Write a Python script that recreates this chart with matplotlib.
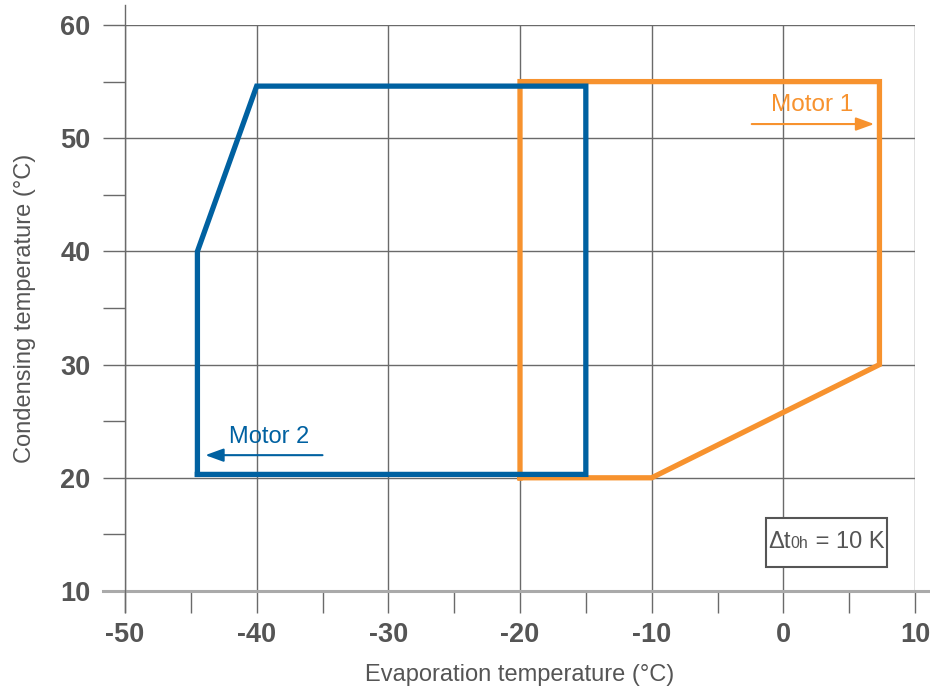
import matplotlib.pyplot as plt
from matplotlib.patches import Rectangle
from matplotlib.offsetbox import TextArea, HPacker, AnnotationBbox

plt.rcParams['font.family'] = ['Liberation Sans', 'DejaVu Sans']
plt.rcParams['axes.unicode_minus'] = False

# operating envelopes (evaporation temp, condensing temp)
motor1_te = [-20, -10, 7.3, 7.3, -20, -20]
motor1_tc = [20, 20, 30, 55, 55, 20]
motor2_te = [-44.5, -44.5, -40, -15, -15, -44.5]
motor2_tc = [20.3, 40, 54.6, 54.6, 20.3, 20.3]

x_ticks = [-50, -40, -30, -20, -10, 0, 10]
y_ticks = [10, 20, 30, 40, 50, 60]

orange = '#f7922e'
blue = '#0061a1'
grey = '#555555'

fig = plt.figure(figsize=(9.3, 6.9), dpi=100)
ax = fig.add_axes([125 / 930, 99 / 690, 790 / 930, 566 / 690])
ax.set_xlim(-50, 10)
ax.set_ylim(10, 60)

for s in ax.spines.values():
    s.set_visible(False)

ax.set_xticks(x_ticks)
ax.set_yticks(y_ticks)
ax.set_xticks([-45, -35, -25, -15, -5, 5], minor=True)
ax.set_yticks([15, 25, 35, 45, 55], minor=True)
ax.grid(True, which='major', color='#6a6a6a', lw=1.0)
ax.tick_params(which='both', length=16, width=1.0, color='#6a6a6a',
               labelsize=19.5, labelcolor=grey)
ax.tick_params(axis='x', pad=6)
ax.tick_params(axis='y', pad=9)
for lab in ax.get_xticklabels() + ax.get_yticklabels():
    lab.set_fontweight('bold')

# axis lines running past the plot area
ax.plot([-0.028, 1.019], [10, 10], color='#aaaaaa', lw=2.2,
        transform=ax.get_yaxis_transform(), clip_on=False, zorder=2.5)
ax.plot([-50, -50], [-0.037, 1.035], color='#6a6a6a', lw=1.0,
        transform=ax.get_xaxis_transform(), clip_on=False, zorder=2.5)

ax.set_xlabel('Evaporation temperature (°C)', fontsize=17, color=grey, labelpad=12)
ax.set_ylabel('Condensing temperature (°C)', fontsize=17, color=grey, labelpad=17)

ax.plot(motor1_te, motor1_tc, color=orange, lw=3.8, solid_joinstyle='miter', zorder=3)
ax.plot(motor2_te, motor2_tc, color=blue, lw=3.8, solid_joinstyle='miter', zorder=4)

ax.text(2.2, 52.9, 'Motor 1', color=orange, fontsize=17.5, ha='center', va='center')
ax.annotate('', xy=(6.9, 51.25), xytext=(-2.4, 51.25),
            arrowprops=dict(arrowstyle='-|>,head_length=1.1,head_width=0.4',
                            color=orange, lw=1.5, shrinkA=0, shrinkB=0))
ax.text(-42.1, 23.6, 'Motor 2', color=blue, fontsize=17, ha='left', va='center')
ax.annotate('', xy=(-43.9, 22.0), xytext=(-35.0, 22.0),
            arrowprops=dict(arrowstyle='-|>,head_length=1.1,head_width=0.4',
                            color=blue, lw=1.5, shrinkA=0, shrinkB=0))

# superheat note
ax.add_patch(Rectangle((-1.3, 12.1), 9.2, 4.35, facecolor='white',
                       edgecolor=grey, lw=1.5, zorder=5))
parts = [TextArea('Δt', textprops=dict(size=17, color=grey)),
         TextArea('0h', textprops=dict(size=11.5, color=grey)),
         TextArea(' = 10 K', textprops=dict(size=17, color=grey))]
pack = HPacker(children=parts, align='baseline', pad=0, sep=0)
ab = AnnotationBbox(pack, (3.25, 14.3), frameon=False)
ab.set_zorder(6)
ax.add_artist(ab)

fig.savefig('out.png', dpi=100)
